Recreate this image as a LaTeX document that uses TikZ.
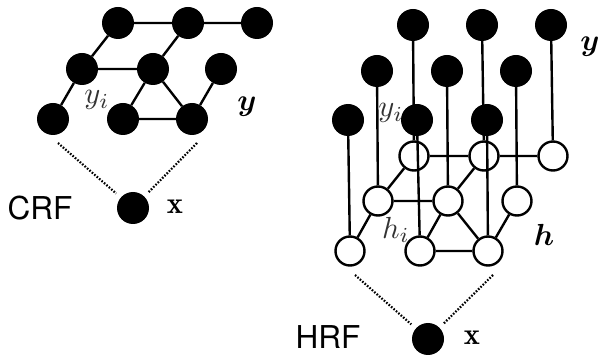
\documentclass[tikz,border=0pt]{standalone}
\usepackage{amsmath}
\usepackage{graphicx}
\usepackage{fontspec}
\newfontfamily\labelsans{TeX Gyre Heros}
\newcommand\mlab[1]{\scalebox{3.05}{$#1$}}
\pgfdeclarelayer{labels}
\pgfdeclarelayer{back}
\pgfdeclarelayer{hmid}
\pgfdeclarelayer{front}
\pgfsetlayers{labels,back,hmid,front,main}
\begin{document}
\begin{tikzpicture}[x=1pt,y=-1pt,
  yn/.style={circle,fill=black,minimum size=32pt,inner sep=0pt},
  hn/.style={circle,draw=black,fill=white,line width=2.4pt,minimum size=29pt,inner sep=0pt},
  edge/.style={line width=2.4pt},
  dotline/.style={line width=2.2pt,dash pattern=on 1.6pt off 1.6pt},
  lab/.style={inner sep=0pt},
  glab/.style={lab,text=black!80},
  sans/.style={font=\fontsize{31.5}{33}\selectfont\labelsans,inner sep=0pt}]
\useasboundingbox (0,0) rectangle (603,358);

% ---------------- CRF ----------------
\node[yn] (ct1) at (118,23) {};
\node[yn] (ct2) at (188,23) {};
\node[yn] (ct3) at (257,23) {};
\node[yn] (cm1) at (82,69) {};
\node[yn] (cm2) at (153,69) {};
\node[yn] (cm3) at (221,69) {};
\node[yn] (cb1) at (53,119) {};
\node[yn] (cb2) at (123,119) {};
\node[yn] (cb3) at (192,119) {};
\node[yn] (cx) at (133,208) {};
\begin{pgfonlayer}{labels}
\node[glab] (cyi) at (97,100) {\mlab{y_i}};
\end{pgfonlayer}
\begin{pgfonlayer}{back}
\draw[edge] (ct1) -- (ct2) -- (ct3) (ct1) -- (cm1) (ct2) -- (cm2) (cm1) -- (cm2)
  (cm1) -- (cb1) (cm2) -- (cb2) (cm2) -- (cb3) (cb2) -- (cb3) (cm3) -- (cb3);
\end{pgfonlayer}
\node[lab] (cy) at (247,107) {\mlab{\boldsymbol{y}}};
\node[lab] (cxl) at (175,207) {\mlab{\mathbf{x}}};
\node[sans] (crf) at (40,208) {CRF};
\coordinate (d1) at (58,143);
\coordinate (d2) at (197,143);
\draw[dotline, shorten >=6pt] (d1) -- (cx);
\draw[dotline, shorten >=5pt] (d2) -- (cx);

% ---------------- HRF ----------------
\begin{pgfonlayer}{hmid}
\node[hn] (ht1) at (414,156) {};
\node[hn] (ht2) at (484,156) {};
\node[hn] (ht3) at (553,156) {};
\node[hn] (hm1) at (378,201) {};
\node[hn] (hm2) at (448,201) {};
\node[hn] (hm3) at (517,201) {};
\end{pgfonlayer}
\node[hn] (hb1) at (350,251) {};
\node[hn] (hb2) at (420,251) {};
\node[hn] (hb3) at (488,251) {};

\node[yn] (yt1) at (413,25) {};
\node[yn] (yt2) at (482,25) {};
\node[yn] (yt3) at (551,25) {};
\node[yn] (ym1) at (377,71) {};
\node[yn] (ym2) at (447,71) {};
\node[yn] (ym3) at (516,71) {};
\node[yn] (yb1) at (348,120) {};
\node[yn] (yb2) at (417,120) {};
\node[yn] (yb3) at (487,120) {};
\node[yn] (hx) at (428,339) {};

\begin{pgfonlayer}{labels}
\node[glab] (hyi) at (391,113) {\mlab{y_i}};
\node[glab] (hhi) at (396,230) {\mlab{h_i}};
\end{pgfonlayer}
\begin{pgfonlayer}{back}
\draw[edge] (yt1) -- (ht1) (yt2) -- (ht2) (yt3) -- (ht3)
  (ym1) -- (hm1) (ym2) -- (hm2) (ym3) -- (hm3);
\draw[edge] (ht1) -- (ht2) -- (ht3) (ht1) -- (hm1) (ht2) -- (hm2) (hm1) -- (hm2)
  (hm1) -- (hb1) (hm2) -- (hb2) (hm2) -- (hb3) (hb2) -- (hb3) (hm3) -- (hb3);
\end{pgfonlayer}
\begin{pgfonlayer}{front}
\draw[edge] (yb1) -- (hb1) (yb2) -- (hb2) (yb3) -- (hb3);
\end{pgfonlayer}
\node[lab] (hy) at (590,47) {\mlab{\boldsymbol{y}}};
\node[lab] (hh) at (544,235) {\mlab{\boldsymbol{h}}};
\node[lab] (hxl) at (472,338) {\mlab{\mathbf{x}}};
\node[sans] (hrf) at (328,337) {HRF};
\coordinate (d3) at (355,275);
\coordinate (d4) at (493,275);
\draw[dotline, shorten >=6pt] (d3) -- (hx);
\draw[dotline, shorten >=6pt] (d4) -- (hx);
\end{tikzpicture}
\end{document}
